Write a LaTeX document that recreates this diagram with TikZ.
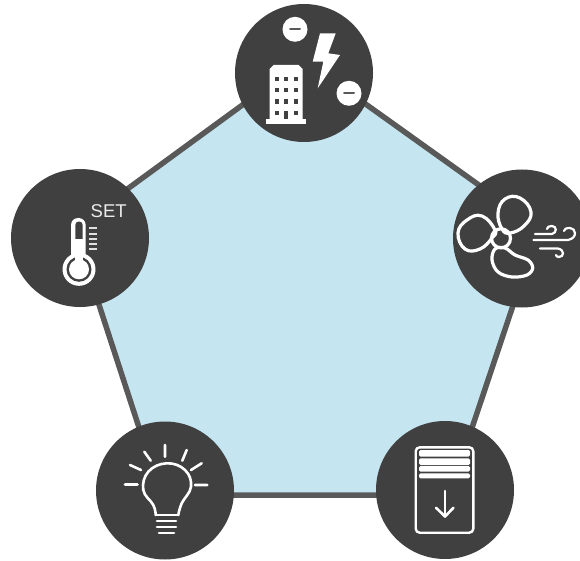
\documentclass[tikz,border=0pt]{standalone}
\usepackage{fontspec}
\setmainfont{Liberation Sans}
\definecolor{disc}{HTML}{404040}
\definecolor{edge}{HTML}{595959}
\definecolor{area}{HTML}{C5E6F0}
\tikzset{
  hub/.style={circle,fill=disc,draw=none,minimum size=138pt,inner sep=0pt},
  ln/.style={draw=white,line width=2.6pt,line cap=round,line join=round},
  fanln/.style={draw=white,line width=3.2pt,line cap=round,line join=round},
  thin ln/.style={draw=white,line width=2.2pt,line cap=round,line join=round},
  minus/.style={draw=edge,line width=2pt,line cap=round}
}
\begin{document}
\begin{tikzpicture}[x=1pt,y=-1pt]
\clip (0,0) rectangle (580,561);
\fill[white] (0,0) rectangle (580,561);
\coordinate (vT) at (304,60);
\coordinate (vR) at (539,228);
\coordinate (vBR) at (449.5,495);
\coordinate (vBL) at (161,495);
\coordinate (vL) at (74,228);
\draw[draw=edge,line width=5.5pt,fill=area,line join=miter] (vT) -- (vR) -- (vBR) -- (vBL) -- (vL) -- cycle;
\node[hub] (top) at (304,73) {};
\node[hub] (right) at (522,238.5) {};
\node[hub] (bright) at (445,490) {};
\node[hub] (bleft) at (165,490.5) {};
\node[hub] (left) at (80,238) {};

% building
\fill[white] (269.5,120) -- (269.5,69) -- (273.5,65) -- (298.5,65) -- (302.5,69) -- (302.5,120) -- cycle;
\fill[white] (266,119.5) rectangle (306,124);
\foreach \yy in {79,90,101.7}{
  \foreach \xx in {276.7,286,296}{
    \fill[disc] (\xx-2.2,\yy-2.2) rectangle (\xx+2.2,\yy+2.2);
  }
}
\fill[disc] (274.5,110.8) rectangle (278.9,115.2);
\fill[disc] (293.8,110.8) rectangle (298.2,115.2);
\fill[disc] (284,111) rectangle (288,119.5);
% bolt
\fill[white] (320,33.3) -- (335.7,33.3) -- (328.3,53.3) -- (340,55) -- (317.7,88.3) -- (323.3,61.7) -- (312.7,61.7) -- cycle;
% minus badges
\node[circle,fill=white,minimum size=25pt,inner sep=0pt] (m1) at (295,29.3) {};
\draw[minus] (290,29.3) -- (300,29.3);
\node[circle,fill=white,minimum size=25pt,inner sep=0pt] (m2) at (349,93.3) {};
\draw[minus] (344,93.3) -- (354,93.3);

% fan
\node[circle,draw=white,line width=3.2pt,minimum size=19pt,inner sep=0pt] (fanhub) at (501,238.3) {};
\draw[fanln] plot[smooth cycle,tension=0.75] coordinates {(502,229) (498,213) (505,199) (520,198) (531,212) (524,226) (510,233)};
\draw[fanln] plot[smooth cycle,tension=0.75] coordinates {(492,238) (480,249) (465,249) (458,233) (467,220) (482,216) (495,230)};
\draw[fanln] plot[smooth cycle,tension=0.6] coordinates {(505,248) (515,255) (528,260) (532.7,268) (527,275) (512,277) (498,272) (492,260) (495,249)};
\draw[thin ln] (535,234) -- (552,234) .. controls (557,233) and (557,226) .. (552,226) .. controls (549,226) and (547,227) .. (547,229);
\draw[thin ln] (533.5,240) -- (568,240) .. controls (578,238) and (576,228) .. (570,228) .. controls (566,228) and (564,229) .. (564,231);
\draw[thin ln] (540,248.5) -- (558,248.5) .. controls (565,250) and (564,257) .. (559,257) .. controls (557,257) and (556,256) .. (556,255);

% thermometer
\fill[white,rounded corners=7pt] (71,218) rectangle (85.7,270);
\fill[white] (79,269.3) circle[radius=16.5];
\fill[disc,rounded corners=3.5pt] (75.3,221.5) rectangle (82.7,270);
\fill[disc] (79,269.3) circle[radius=12.5];
\fill[white] (79,269.3) circle[radius=10];
\fill[white] (75.3,239) rectangle (82.7,262);
\foreach \yy in {228.3,234,239.3,244.3,249.3}{
  \draw[draw=white!88!black,line width=2pt] (89.3,\yy) -- (96.7,\yy);
}
\node[anchor=base west,inner sep=0pt,text=white!92!black,font=\fontsize{18.5}{20}\selectfont] (settext) at (90.5,218) {SET};

% bulb
\draw[ln] (125,484.5) -- (137.5,484.5) (130,465) -- (141,470) (144.3,451.7) -- (150.7,460.7) (165,445) -- (165,456.7) (186.7,450) -- (182.3,460.7) (201.7,463.3) -- (191,470) (195,485) -- (207.3,485);
\draw[ln] plot[smooth,tension=0.7] coordinates {(155.7,515) (153.3,505) (143.3,490) (148.3,471.7) (166.7,463.3) (185,470) (191,486.7) (181.7,503.3) (178.3,515)};
\draw[ln] (155.7,515) -- (178.3,515);
\foreach \yy in {521,527}{
  \draw[ln] (157,\yy) -- (176,\yy);
}
\draw[ln] (159,533) -- (174,533);

% cooling unit
\draw[draw=white,line width=2.4pt,rounded corners=4pt] (415.7,447.3) rectangle (473.3,532.7);
\foreach \yy/\hh in {450/6.7,458.3/6.7,466/5.7,473.3/5}{
  \fill[white,rounded corners=1.5pt] (419,\yy) rectangle (470,\yy+\hh);
}
\draw[ln] (445,491) -- (445,516.5);
\draw[ln] (436,507.7) -- (445,516.5) -- (453.5,507.7);
\end{tikzpicture}
\end{document}
